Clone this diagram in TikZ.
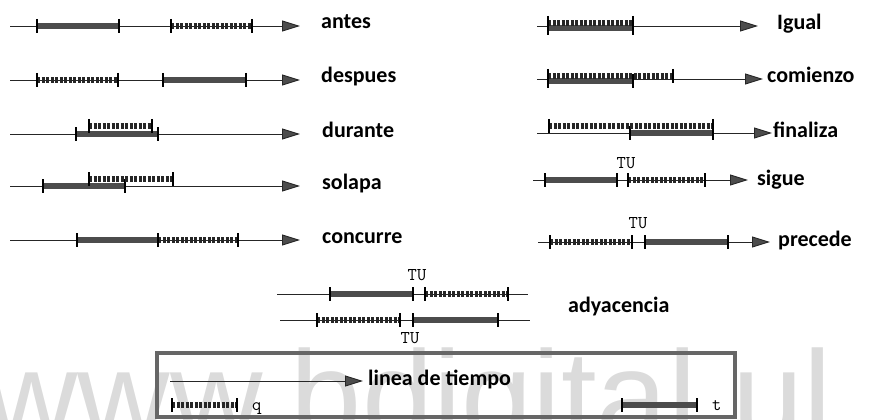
\documentclass[tikz,border=0pt]{standalone}
\usepackage{fontspec}
\usepackage{tikz}
\usetikzlibrary{arrows.meta}
\setmainfont{Carlito}
\newfontfamily\wmfont{Liberation Sans}

\begin{document}
\begin{tikzpicture}[x=1pt, y=-1pt,
    every node/.style={inner sep=0pt},
    eje/.style={line width=0.9pt, black!85, -{Triangle[length=18pt, width=11pt, fill=black!70]}},
    linea/.style={line width=0.9pt, black!85},
    barra/.style={line width=6pt, black!70},
    cadena/.style={line width=6.5pt, black!85, dash pattern=on 3.2pt off 1.3pt},
    tope/.style={line width=1.4pt, black},
    rel/.style={anchor=base west, font=\fontsize{22}{24}\selectfont\bfseries},
    tu/.style={font=\fontsize{18}{19}\ttfamily}]
  \useasboundingbox (0,0) rectangle (871,420);
  % sello de fondo
  \node[anchor=base west, text=black!14, font=\fontsize{128}{128}\wmfont] (sello) at (-15,440) {www.bdigital.ul};
  % lineas de tiempo
  \foreach \a/\b/\y in {10/300/26, 10/300/80, 10/300/134, 10/300/186, 10/300/240,
      537/758/26, 537/763/79, 537/772/133, 533/748/180, 538/770/242, 170/363/381}
    { \draw[eje] (\a,\y) -- (\b,\y); }
  \draw[linea] (277,294) -- (528,294);
  \draw[linea] (280,320) -- (530,320);
  % intervalos t
  \foreach \a/\b/\y in {37/119/26, 163/246/80, 76/158/134, 43/125/186, 77/158/240,
      548/633/28, 548/633/81, 630/713/133, 545/617/180, 645/728/242,
      330/413/294, 413/498/320, 622/697/405}
    { \draw[barra] (\a,\y) -- (\b,\y);
      \draw[tope] (\a,\y-7) -- (\a,\y+7) (\b,\y-7) -- (\b,\y+7); }
  % intervalos q
  \foreach \a/\b/\y in {171/252/26, 37/118/80, 89/152/126, 89/173/179, 158/238/240,
      548/633/23, 548/673/76, 549/713/126, 628/705/180, 550/632/242,
      425/508/294, 317/400/320, 172/237/405}
    { \draw[cadena] (\a,\y) -- (\b,\y);
      \draw[tope] (\a,\y-7) -- (\a,\y+7) (\b,\y-7) -- (\b,\y+7); }
  % nombres de las relaciones
  \foreach \x/\y/\t in {321/29/antes, 321/83/despues, 322/137/durante, 322/189/solapa,
      322/243/concurre, 777/30/Igual, 767/83/comienzo, 773/137/finaliza,
      757/185/sigue, 778/246/precede, 568/312/adyacencia}
    { \node[rel] (\t) at (\x,\y) {\t}; }
  \node[tu] (tu1) at (626,163) {TU};
  \node[tu] (tu2) at (638,223) {TU};
  \node[tu] (tu3) at (417,275) {TU};
  \node[tu] (tu4) at (410,338) {TU};
  % leyenda
  \draw[line width=4pt, black!60] (157,353) rectangle (735,417);
  \node[rel] (tiempo) at (368,385) {linea de tiempo};
  \node[tu, anchor=base west] (q) at (252,410) {q};
  \node[tu, anchor=base west] (t) at (712,410) {t};
\end{tikzpicture}
\end{document}
